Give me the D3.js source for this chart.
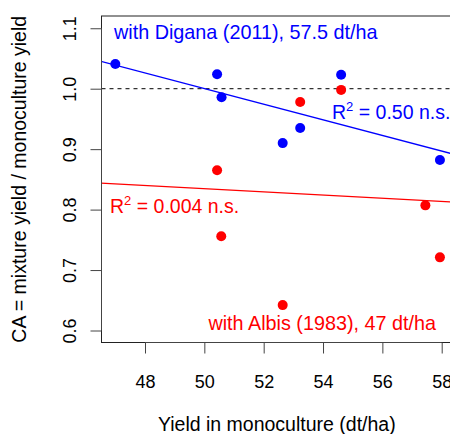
<!DOCTYPE html>
<html>
<head>
<meta charset="utf-8">
<script src="https://cdn.jsdelivr.net/npm/d3@7"></script>
<style>
  html, body { margin: 0; padding: 0; background: #fff; }
  svg { display: block; }
  text { font-family: "Liberation Sans", Arial, sans-serif; }
</style>
</head>
<body>
<svg id="chart" width="450" height="434"></svg>
<script>
// ---- data ----
const xTicks = [48, 50, 52, 54, 56, 58];
const yTicks = [0.6, 0.7, 0.8, 0.9, 1.0, 1.1];

const diganaX = [47.0, 50.43, 50.58, 52.64, 53.23, 54.61, 57.94];
const diganaY = [1.041, 1.024, 0.986, 0.910, 0.935, 1.023, 0.882];

const albisX = [50.43, 50.57, 52.64, 53.23, 54.61, 57.45, 57.94];
const albisY = [0.865, 0.756, 0.642, 0.978, 0.998, 0.807, 0.721];

// fitted lines (intercept, slope)
const fitNames = ["Digana", "Albis"];
const fitIntercept = [1.6468, 0.9662];
const fitSlope = [-0.01293, -0.00263];
const fitColors = ["#0000ff", "#ff0000"];

const xDomain = [46.515, 58.35];
const yDomain = [0.5806, 1.1204];

// ---- layout ----
const svg = d3.select("#chart");
const plotLeft = 101.5, plotTop = 16, plotBottom = 342.5;
const x = d3.scaleLinear().domain([48, 58]).range([145, 441.7]);
const y = d3.scaleLinear().domain([0.6, 1.0]).range([330.5, 88.7]);
const plotRight = x(xDomain[1]);

const font = '"Liberation Sans", Arial, sans-serif';

// clip for plot region
svg.append("defs").append("clipPath").attr("id", "clip")
  .append("rect").attr("x", plotLeft).attr("y", plotTop)
  .attr("width", plotRight - plotLeft).attr("height", plotBottom - plotTop);

const plot = svg.append("g").attr("clip-path", "url(#clip)");

// dashed reference line at 1.0
plot.append("line")
  .attr("x1", plotLeft).attr("x2", plotRight)
  .attr("y1", y(1.0)).attr("y2", y(1.0))
  .attr("stroke", "#333").attr("stroke-width", 1.2)
  .attr("stroke-dasharray", "4,4");

// regression lines
fitIntercept.forEach((a, i) => {
  const b = fitSlope[i];
  plot.append("line")
    .attr("x1", x(xDomain[0])).attr("y1", y(a + b * xDomain[0]))
    .attr("x2", x(xDomain[1])).attr("y2", y(a + b * xDomain[1]))
    .attr("stroke", fitColors[i]).attr("stroke-width", 1.3);
});

// points
plot.selectAll("circle.albis").data(albisX).enter().append("circle")
  .attr("cx", (d) => x(d)).attr("cy", (d, i) => y(albisY[i]))
  .attr("r", 5).attr("fill", "#ff0000");
plot.selectAll("circle.digana").data(diganaX).enter().append("circle")
  .attr("cx", (d) => x(d)).attr("cy", (d, i) => y(diganaY[i]))
  .attr("r", 5).attr("fill", "#0000ff");

// box
svg.append("rect")
  .attr("x", plotLeft).attr("y", plotTop)
  .attr("width", plotRight - plotLeft).attr("height", plotBottom - plotTop)
  .attr("fill", "none").attr("stroke", "#222").attr("stroke-width", 1);

// x axis
const xAxis = d3.axisBottom(x).tickValues(xTicks).tickSize(11).tickPadding(0)
  .tickFormat(d3.format("d"));
const gx = svg.append("g").attr("transform", `translate(0,${plotBottom})`).call(xAxis);
gx.select(".domain").attr("stroke", "#444")
  .attr("d", `M${x(xTicks[0])},0H${x(xTicks[xTicks.length - 1])}`);
gx.selectAll(".tick line").attr("stroke", "#444");
gx.selectAll(".tick text")
  .attr("font-family", font).attr("font-size", 18).attr("fill", "#000")
  .attr("dy", null).attr("y", 45);

// y axis
const yAxis = d3.axisLeft(y).tickValues(yTicks).tickSize(11).tickPadding(0)
  .tickFormat(d3.format(".1f"));
const gy = svg.append("g").attr("transform", `translate(${plotLeft},0)`).call(yAxis);
gy.select(".domain").attr("stroke", "#444")
  .attr("d", `M0,${y(yTicks[0])}V${y(yTicks[yTicks.length - 1])}`);
gy.selectAll(".tick line").attr("stroke", "#444");
gy.selectAll(".tick text")
  .attr("font-family", font).attr("font-size", 18).attr("fill", "#000")
  .attr("x", null).attr("dy", null)
  .attr("text-anchor", "middle")
  .attr("transform", "translate(-26,0) rotate(-90)");

// axis titles
svg.append("text")
  .attr("x", (plotLeft + plotRight) / 2).attr("y", 431)
  .attr("text-anchor", "middle")
  .attr("font-size", 19.5).attr("fill", "#000")
  .text("Yield in monoculture (dt/ha)");

svg.append("text")
  .attr("transform", `translate(25.5,${(plotTop + plotBottom) / 2}) rotate(-90)`)
  .attr("text-anchor", "middle")
  .attr("font-size", 19.5).attr("fill", "#000")
  .text("CA = mixture yield / monoculture yield");

// annotations
svg.append("text")
  .attr("x", 114).attr("y", 39)
  .attr("font-size", 19.8).attr("fill", "#0000ff")
  .text("with Digana (2011), 57.5 dt/ha");

svg.append("text")
  .attr("x", 436).attr("y", 330)
  .attr("text-anchor", "end")
  .attr("font-size", 19.8).attr("fill", "#ff0000")
  .text("with Albis (1983), 47 dt/ha");

function r2label(xPos, yPos, value, color) {
  const t = svg.append("text")
    .attr("x", xPos).attr("y", yPos)
    .attr("font-size", 19.5).attr("fill", color);
  t.append("tspan").text("R");
  t.append("tspan").attr("font-size", 13).attr("dy", -8).text("2");
  t.append("tspan").attr("dy", 8).text(" = " + value + " n.s.");
}
r2label(332, 119, "0.50", "#0000ff");
r2label(110, 213, "0.004", "#ff0000");
</script>
</body>
</html>
